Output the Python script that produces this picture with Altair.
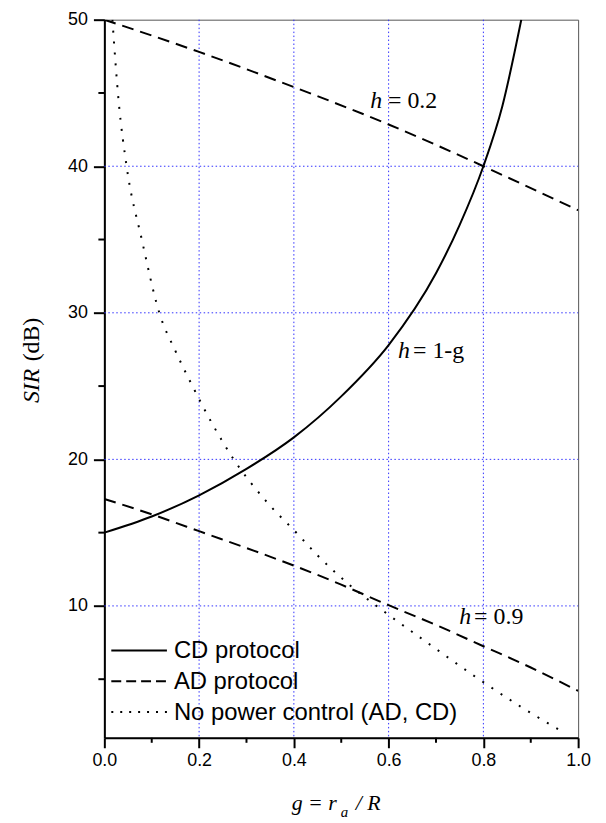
import altair as alt
import pandas as pd

# ---- data ----
g_cd = [0.0, 0.1, 0.2, 0.3, 0.4, 0.5, 0.6, 0.7, 0.75, 0.8, 0.84, 0.88]
sir_cd = [15.0, 16.1, 17.55, 19.35, 21.5, 24.3, 27.8, 32.7, 36.0, 40.0, 44.1, 50.0]

g_ad02 = [0.0, 0.2, 0.4, 0.6, 0.8, 1.0]
sir_ad02 = [50.0, 47.8, 45.4, 42.85, 40.0, 37.0]

g_ad09 = [0.0, 0.1, 0.2, 0.3, 0.4, 0.5, 0.6, 0.7, 0.8, 0.9, 1.0]
sir_ad09 = [17.3, 16.25, 15.1, 13.95, 12.75, 11.45, 10.05, 8.7, 7.25, 5.8, 4.2]

g_npc = [0.017, 0.03, 0.047, 0.079, 0.116, 0.15, 0.186, 0.23, 0.273, 0.34,
         0.408, 0.45, 0.515, 0.587, 0.677, 0.788, 0.88, 0.968]
sir_npc = [50.0, 44.5, 40.0, 35.0, 30.0, 27.4, 25.0, 22.3, 20.0, 17.2,
           14.9, 13.45, 11.5, 9.7, 7.6, 5.06, 3.1, 1.4]

x_major = [0.0, 0.2, 0.4, 0.6, 0.8, 1.0]
x_minor = [0.1, 0.3, 0.5, 0.7, 0.9]
x_grid = [0.2, 0.4, 0.6, 0.8]
y_major = [10, 20, 30, 40, 50]
y_minor = [5, 15, 25, 35, 45]
y_grid = [10, 20, 30, 40]

curve_label_text = ["= 0.2", "= 1-g", "= 0.9"]
curve_label_g = [0.561, 0.62, 0.749]
curve_label_sir = [44.0, 26.9, 8.8]
curve_label_dx = [18, 15, 15]

legend_labels = ["CD protocol", "AD protocol", "No power control (AD, CD)"]

W, H = 477, 723
SANS = "Liberation Sans"
SERIF = "Liberation Serif"
DASH = [12, 7]
DOT = [2, 9]
GRID_COLOR = "#3030ff"

xs = alt.Scale(domain=[0, 1], nice=False, zero=False)
ys = alt.Scale(domain=[1, 50], nice=False, zero=False)

base_axis = dict(title=None, labelFont=SANS, labelFontSize=18, labelColor="black",
                 tickColor="black", tickWidth=2, domainColor="black", domainWidth=2,
                 grid=False)
AX = alt.Axis(values=x_major, format=".1f", tickSize=10, labelPadding=4,
              labelFlush=False, **base_axis)
AY = alt.Axis(values=y_major, format="d", tickSize=11, labelPadding=6, **base_axis)


def X(field):
    return alt.X(field, scale=xs, axis=AX)


def Y(field):
    return alt.Y(field, scale=ys, axis=AY)


# grid lines (dotted blue) at interior major ticks
grid_x = alt.Chart(pd.DataFrame({"v": x_grid})).mark_rule(
    color=GRID_COLOR, strokeWidth=1, strokeDash=[1.5, 2.5]
).encode(x=X("v:Q"), y=alt.value(0), y2=alt.value(H))
grid_y = alt.Chart(pd.DataFrame({"v": y_grid})).mark_rule(
    color=GRID_COLOR, strokeWidth=1, strokeDash=[1.5, 2.5]
).encode(y=Y("v:Q"), x=alt.value(0), x2=alt.value(W))

# minor ticks
minor_x = alt.Chart(pd.DataFrame({"v": x_minor})).mark_rule(
    color="black", strokeWidth=2
).encode(x=X("v:Q"), y=alt.value(H), y2=alt.value(H + 5))
minor_y = alt.Chart(pd.DataFrame({"v": y_minor})).mark_rule(
    color="black", strokeWidth=2
).encode(y=Y("v:Q"), x=alt.value(0), x2=alt.value(-6))


def curve(gs, ss, dash, interp):
    df = pd.DataFrame({"g": gs, "sir": ss})
    kw = dict(color="black", strokeWidth=2, interpolate=interp, clip=True)
    if dash:
        kw["strokeDash"] = dash
    return alt.Chart(df).mark_line(**kw).encode(x=X("g:Q"), y=Y("sir:Q"))


cd = curve(g_cd, sir_cd, None, "monotone")
ad02 = curve(g_ad02, sir_ad02, DASH, "natural")
ad09 = curve(g_ad09, sir_ad09, DASH, "natural")
npc = curve(g_npc, sir_npc, DOT, "monotone")

# curve labels: italic "h" then roman "= ..."
lab_df = pd.DataFrame({"g": curve_label_g, "sir": curve_label_sir,
                       "t": curve_label_text})
lab_h = alt.Chart(lab_df).mark_text(
    text="h", font=SERIF, fontSize=24, fontStyle="italic", align="left",
    baseline="alphabetic", color="black"
).encode(x=X("g:Q"), y=Y("sir:Q"))
lab_rest = []
for i in range(len(curve_label_text)):
    lab_rest.append(alt.Chart(lab_df.iloc[[i]]).mark_text(
        font=SERIF, fontSize=24, align="left", baseline="alphabetic",
        color="black", dx=curve_label_dx[i]
    ).encode(x=X("g:Q"), y=Y("sir:Q"), text="t:N"))

one = alt.Data(values=[{"k": 1}])


def txt(text, x, y, size, font=SANS, style="normal", align="left", angle=0):
    return alt.Chart(one).mark_text(
        text=text, font=font, fontSize=size, fontStyle=style, align=align,
        baseline="alphabetic", angle=angle, color="black"
    ).encode(x=x, y=y)


# legend (drawn by hand)
leg = []
rows_y = [635, 666, 697]
dashes = [None, [10, 5], [2, 7]]
for lab, yy, d in zip(legend_labels, rows_y, dashes):
    kw = dict(color="black", strokeWidth=2)
    if d:
        kw["strokeDash"] = d
    leg.append(alt.Chart(one).mark_rule(**kw).encode(
        x=alt.value(7), x2=alt.value(63), y=alt.value(yy)))
    leg.append(txt(lab, alt.value(70), alt.value(yy + 8), 24))

# axis titles
titles = [
    txt("SIR", alt.value(-66), alt.value(386), 24, font=SERIF, style="italic", angle=270),
    txt("(dB)", alt.value(-66), alt.value(344), 24, font=SERIF, angle=270),
    txt("g = r", alt.value(234), alt.value(796), 22, font=SERIF, style="italic", align="right"),
    txt("a", alt.value(238), alt.value(803), 15, font=SERIF, style="italic"),
    txt("/ R", alt.value(253), alt.value(796), 22, font=SERIF, style="italic"),
]

chart = alt.layer(
    grid_x, grid_y, minor_x, minor_y, cd, ad02, ad09, npc, lab_h, *lab_rest, *leg, *titles
).properties(
    width=W, height=H,
    padding={"left": 97, "top": 9, "right": 20, "bottom": 85},
    autosize=alt.AutoSizeParams(type="none"),
).configure_view(stroke="#555555", strokeWidth=1)

chart.save("out.html", embed_options={"renderer": "svg", "actions": False})
